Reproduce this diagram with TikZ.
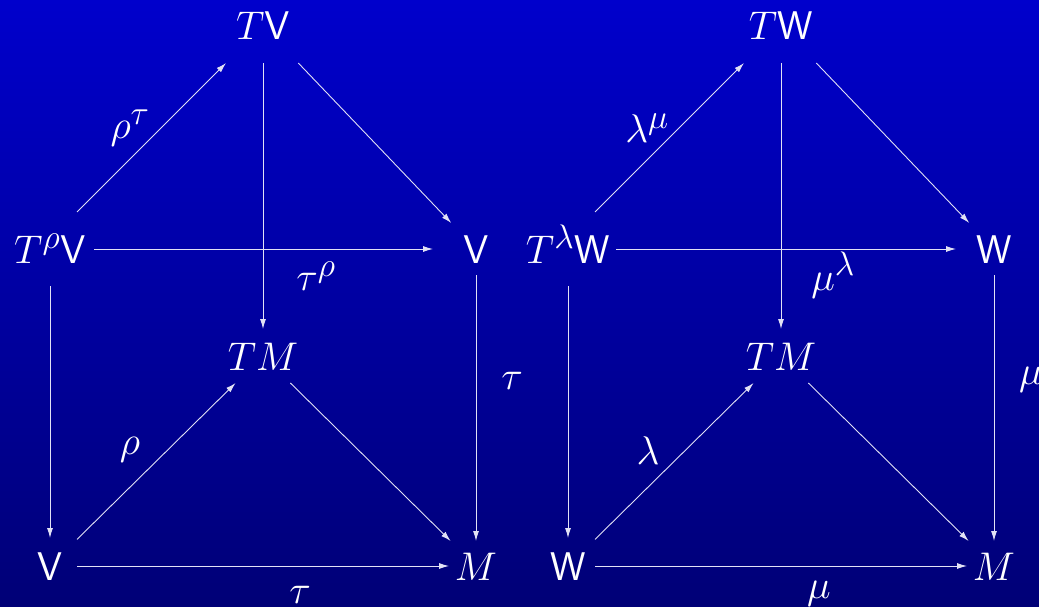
\RequirePackage{fix-cm}
\documentclass[tikz,border=0pt]{standalone}
\usetikzlibrary{arrows.meta}
\DeclareMathSizes{40}{40}{34}{27}
\definecolor{bgtop}{RGB}{0,0,204}
\definecolor{bgbot}{RGB}{0,0,118}
\definecolor{linec}{RGB}{225,225,245}
\tikzset{
  obj/.style={inner sep=0pt, outer sep=0pt, text=white, text height=28pt, text depth=0pt,
    font=\fontsize{40}{48}\selectfont, rectangle},
  lab/.style={inner sep=0pt, outer sep=0pt, text=white, font=\fontsize{40}{48}\selectfont},
  arr/.style={draw=linec, line width=0.9pt, -{Latex[length=10pt,width=6pt]}}
}
\begin{document}
\begin{tikzpicture}[x=1pt,y=-1pt]
\shade[top color=bgtop, bottom color=bgbot] (0,0) rectangle (1039,607);
\useasboundingbox (0,0) rectangle (1039,607);
% left diagram
\node[obj, minimum width=80pt, minimum height=74pt] (TV)  at (263,26)  {$T\mathsf{V}$};
\node[obj, minimum width=88pt, minimum height=74pt] (TpV) at (50,249)  {$T^{\rho}\mathsf{V}$};
\node[obj, minimum width=86pt, minimum height=52pt] (Vr)  at (476,249) {$\mathsf{V}$};
\node[obj, minimum width=80pt, minimum height=54pt] (TM1) at (263,356) {$TM$};
\node[obj, minimum width=54pt, minimum height=56pt] (Vb)  at (50,566)  {$\mathsf{V}$};
\node[obj, minimum width=54pt, minimum height=50pt] (M1)  at (476,566) {$M$};
\draw[arr] (TpV.north -| Vb.east) -- (TV);
\draw[arr] (TV) -- (TM1);
\draw[arr] (TV) -- (Vr);
\draw[arr] (TpV) -- (Vr);
\draw[arr] (TpV) -- (Vb);
\draw[arr] (Vr) -- (M1);
\draw[arr] (Vb) -- (TM1);
\draw[arr] (TM1) -- (M1);
\draw[arr] (Vb) -- (M1);
\node[lab] (l1) at (130,128) {$\rho^{\tau}$};
\node[lab] (l2) at (316,276) {$\tau^{\rho}$};
\node[lab] (l3) at (512,381) {$\tau$};
\node[lab] (l4) at (130,450) {$\rho$};
\node[lab] (l5) at (300,595) {$\tau$};
% right diagram
\node[obj, minimum width=80pt, minimum height=74pt] (TW)  at (781,26)  {$T\mathsf{W}$};
\node[obj, minimum width=96pt, minimum height=74pt] (TlW) at (568,249) {$T^{\lambda}\mathsf{W}$};
\node[obj, minimum width=76pt, minimum height=52pt] (Wr)  at (994,249) {$\mathsf{W}$};
\node[obj, minimum width=80pt, minimum height=54pt] (TM2) at (781,356) {$TM$};
\node[obj, minimum width=54pt, minimum height=56pt] (Wb)  at (568,566) {$\mathsf{W}$};
\node[obj, minimum width=54pt, minimum height=50pt] (M2)  at (994,566) {$M$};
\draw[arr] (TlW.north -| Wb.east) -- (TW);
\draw[arr] (TW) -- (TM2);
\draw[arr] (TW) -- (Wr);
\draw[arr] (TlW) -- (Wr);
\draw[arr] (TlW) -- (Wb);
\draw[arr] (Wr) -- (M2);
\draw[arr] (Wb) -- (TM2);
\draw[arr] (TM2) -- (M2);
\draw[arr] (Wb) -- (M2);
\node[lab] (r1) at (647,128) {$\lambda^{\mu}$};
\node[lab] (r2) at (833,275) {$\mu^{\lambda}$};
\node[lab] (r3) at (1031,380) {$\mu$};
\node[lab] (r4) at (648,451) {$\lambda$};
\node[lab] (r5) at (819,594) {$\mu$};
\end{tikzpicture}
\end{document}
